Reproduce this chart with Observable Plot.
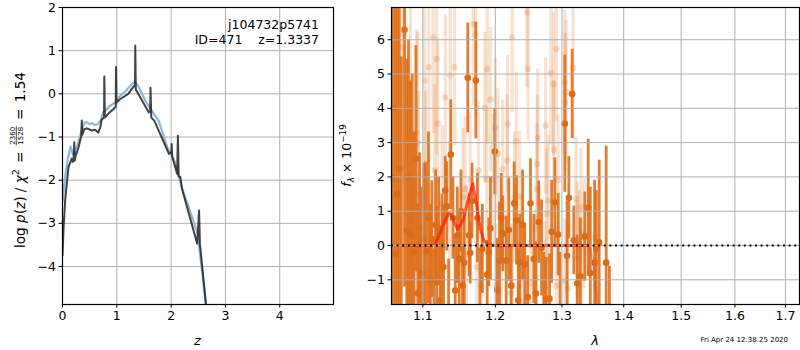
<!DOCTYPE html>
<html><head><meta charset="utf-8">
<script src="https://cdn.jsdelivr.net/npm/d3@7"></script>
<script src="https://cdn.jsdelivr.net/npm/@observablehq/plot@0.6"></script>
<style>
body{margin:0;background:#fff;}
#wrap{position:relative;width:800px;height:350px;font-family:"DejaVu Sans";}
#wrap svg{position:absolute;top:0;}
#wrap text{white-space:pre;}
</style></head><body><div id="wrap"></div>
<script>
// ---------- left panel: log p(z) ----------
const zDark = [0.00,0.02,0.05,0.11,0.17,0.19,0.205,0.215,0.225,0.24,0.30,0.345,0.355,0.365,0.40,0.45,0.54,0.60,0.66,0.70,0.72,0.765,0.77,0.78,0.85,0.94,0.98,0.985,0.995,1.065,1.21,1.29,1.335,1.34,1.35,1.59,1.615,1.62,1.635,1.69,1.96,2.005,2.01,2.02,2.11,2.125,2.14,2.17,2.20,2.48,2.515,2.53,2.64,2.68];
const lnpDark = [-3.75,-3.1,-2.45,-1.7,-1.5,-1.58,-1.5,-1.12,-1.55,-1.45,-1.22,-0.98,-0.62,-0.95,-0.82,-0.8,-0.85,-0.83,-0.9,-0.75,-0.6,-0.55,0.4,-0.55,-0.45,-0.35,-0.3,0.62,-0.2,-0.12,0.0,0.14,0.2,1.12,0.1,-0.43,-0.4,0.14,-0.55,-0.62,-1.39,-1.35,-1.16,-1.45,-1.85,-0.97,-1.9,-1.93,-2.2,-3.47,-2.7,-3.47,-4.86,-5.3];
const zLight = [0.00,0.05,0.10,0.15,0.19,0.22,0.30,0.36,0.41,0.45,0.50,0.54,0.60,0.64,0.71,0.75,0.79,0.85,0.97,1.04,1.10,1.16,1.25,1.33,1.40,1.52,1.64,1.70,1.77,1.93,2.06,2.18,2.49,2.62,2.66];
const lnpLight = [-2.5,-1.9,-1.5,-1.22,-1.4,-1.35,-1.1,-0.8,-0.66,-0.66,-0.7,-0.68,-0.72,-0.71,-0.6,-0.42,-0.39,-0.3,-0.2,-0.08,0.0,0.06,0.19,0.28,0.17,-0.15,-0.38,-0.5,-0.62,-1.24,-1.55,-2.1,-3.24,-4.65,-5.1];
const zTicks = [0,1,2,3,4];
const lnpTicks = [-4,-3,-2,-1,0,1,2];
const objName = "j104732p5741";
const objInfo = "ID=471    z=1.3337";

// ---------- right panel: spectrum ----------
const lamDark = [1.0598,1.0622,1.0649,1.0672,1.0693,1.0720,1.0761,1.0791,1.0812,1.0835,1.0861,1.0885,1.0908,1.0934,1.0958,1.0985,1.1012,1.1040,1.1075,1.1100,1.1119,1.1150,1.1170,1.1186,1.1210,1.1232,1.1255,1.1277,1.1300,1.1321,1.1345,1.1376,1.1405,1.1436,1.1465,1.1491,1.1515,1.1537,1.1560,1.1610,1.1630,1.1644,1.1670,1.1723,1.1745,1.1780,1.1815,1.1884,1.1907,1.1930,1.1993,1.2028,1.2061,1.2085,1.2109,1.2158,1.2196,1.2231,1.2275,1.2310,1.2335,1.2358,1.2400,1.2432,1.2475,1.2518,1.2568,1.2600,1.2644,1.2685,1.2720,1.2756,1.2807,1.2840,1.2889,1.2941,1.2970,1.3045,1.3080,1.3108,1.3160,1.3186,1.3240,1.3290,1.3361,1.3416,1.3450,1.3520,1.3546,1.3594,1.3709,1.3762];
const fDark = [2.0,4.0,-0.24,1.5,2.24,-2.5,6.29,0.44,2.0,0.3,1.0,-0.2,2.53,-1.39,0.5,-0.8,0.2,-0.17,0.81,-1.0,0.19,-2.3,0.6,-1.07,0.5,-1.6,0.0,-0.63,1.6,1.14,-2.2,2.65,0.8,-1.31,0.3,-0.39,1.0,-1.17,-0.5,4.89,0.3,-0.22,1.3,4.81,0.8,-1.8,-0.1,-0.85,-0.2,0.5,2.74,-1.3,-0.44,0.8,0.34,-0.44,0.46,-1.17,1.23,0.73,-1.6,-0.49,0.6,-0.55,-1.5,1.23,-0.39,-1.4,0.68,-0.07,-2.0,-1.55,-1.55,0.4,1.26,0.32,-1.8,3.55,-0.3,1.39,4.42,0.15,-1.1,-0.9,0.26,1.1,-0.8,-0.5,-0.1,0.09,-0.5,-3.0];
const errDark = [9,9,8,8,8,8,7.5,5,4,4.5, 4,3.5,3.3,2.6,2.2,2.5,2.2,2.6,2.5,2.2, 1.7,2.2,1.6,2.2,1.5,2.0,1.5,1.8,1.0,1.3, 1.8,1.6,1.2,1.6,1.4,1.4,1.2,1.2,1.4,1.6, 1.2,0.9,1.1,1.7,1.3,1.7,1.3,1.0,1.0,1.5, 1.25,1.5,1.7,1.3,1.1,1.3,1.5,1.2,1.2,1.3, 1.5,1.4,1.6,1.2,1.2,1.3,1.3,1.5,1.2,1.4, 1.8,1.2,1.3,1.5,1.3,1.2,1.6,2.0,1.6,1.2, 1.3,1.0,1.4,1.7,1.3,2.0,2.5,2.4,1.7,2.4, 3.4,2.4];
const lamLight = [1.0730,1.0761,1.0795,1.0839,1.0850,1.0861,1.0917,1.0934,1.0940,1.0947,1.1026,1.1036,1.1058,1.1080,1.1137,1.1156,1.1182,1.1199,1.1258,1.1302,1.1360,1.1369,1.1427,1.1541,1.1572,1.1590,1.1643,1.1688,1.1721,1.1735,1.1761,1.1805,1.1850,1.1875,1.1883,1.1930,1.1970,1.2000,1.2015,1.2037,1.2087,1.2107,1.2172,1.2178,1.2227,1.2245,1.2250,1.2281,1.2307,1.2355,1.2393,1.2466,1.2481,1.2518,1.2600,1.2614,1.2619,1.2628,1.2738,1.2747,1.2762,1.2787,1.2828,1.2868,1.2874,1.2913,1.2915,1.2939,1.3041,1.3045,1.3051,1.3066,1.3092,1.3174,1.3221,1.3238,1.3245,1.3274,1.3299,1.3305,1.3352,1.3521];
const fLight = [5.78,6.17,0.87,3.99,0.49,-1.0,3.3,3.01,1.49,-0.63,4.81,1.7,-0.78,5.2,6.07,2.19,5.44,3.55,1.2,4.32,0.92,4.96,5.2,1.41,1.65,-0.26,1.9,6.46,6.15,-0.63,2.19,-1.22,4.01,1.94,5.15,4.26,1.94,3.45,-1.17,2.67,-0.44,2.24,2.48,3.55,-1.39,6.07,-1.17,1.41,3.04,1.43,-0.34,6.8,5.15,-1.1,-0.92,1.65,2.38,3.14,-1.21,3.5,0.92,1.31,5.03,4.71,2.8,5.73,-1.17,1.9,4.76,-1.02,4.18,4.47,-1.26,5.18,1.36,0.15,-0.39,-0.1,1.12,-0.94,0.34,0.24];
const errLight = [4.0,4.0,3.5,3.5,3.2,3.0,3.0,3.2,3.0,2.8, 3.0,2.8,2.4,2.8,2.8,2.5,2.8,2.5,2.3,2.4, 2.1,2.4,2.3,2.0,2.1,2.0,2.0,2.4,2.4,1.9, 2.0,1.9,2.2,2.0,2.2,2.1,1.9,2.0,1.8,1.9, 1.9,2.0,1.9,2.0,1.8,2.2,1.8,1.9,2.0,1.9, 1.8,2.2,2.1,1.8,1.8,1.9,2.0,2.0,1.9,2.0, 1.9,1.9,2.1,2.1,2.0,2.1,1.8,1.9,2.1,1.8, 2.0,2.1,1.8,2.1,1.8,1.7,1.7,1.7,1.7,1.7, 1.6,1.6];
const lamModel = [1.073,1.090,1.1124,1.118,1.1236,1.129,1.1348,1.138,1.1407,1.144,1.1469,1.151,1.1551,1.160,1.1643,1.168,1.1735,1.178,1.1836,1.1896,1.200,1.250,1.300,1.340];
const fModel = [0,0,0,0.12,0.39,0.7,0.94,0.9,0.78,0.6,0.47,0.6,0.78,1.2,1.55,1.8,1.17,0.53,0.15,0.02,0,0,0,0];
const lamTail = [1.336,1.342,1.345,1.349,1.353,1.3565,1.358];
const fTail = [0,0,-0.1,-0.45,-1.02,-1.7,-2.0];
const lamTicks = [1.1,1.2,1.3,1.4,1.5,1.6,1.7];
const fTicks = [-1,0,1,2,3,4,5,6];
const stamp = "Fri Apr 24 12:38:25 2020";

const FONT = "DejaVu Sans";
const ORANGE = "#dd6c17";
const GRID = "#b0b0b0";
const minus = d => d < 0 ? "\u2212" + (-d) : String(d);

const darkPts = lamDark.map((l, i) => ({l, v: fDark[i], e: errDark[i]}));
const lightPts = lamLight.map((l, i) => ({l, v: fLight[i], e: errLight[i]}));
const model = lamModel.map((l, i) => ({l, v: fModel[i]}));
const tail = lamTail.map((l, i) => ({l, v: fTail[i]}));
const pzDark = zDark.map((z, i) => ({z, v: lnpDark[i]}));
const pzLight = zLight.map((z, i) => ({z, v: lnpLight[i]}));

const wrap = document.getElementById("wrap");
const baseStyle = {background: "transparent", fontFamily: FONT, fontSize: "12.5px", color: "black", overflow: "visible"};

const left = Plot.plot({
  width: 340, height: 350, marginLeft: 62, marginRight: 7, marginTop: 7, marginBottom: 46,
  style: baseStyle,
  x: {domain: [0, 4.99]},
  y: {domain: [-4.88, 2]},
  marks: [
    Plot.gridX(zTicks, {stroke: GRID, strokeOpacity: 1, strokeWidth: 1}),
    Plot.gridY(lnpTicks, {stroke: GRID, strokeOpacity: 1, strokeWidth: 1}),
    Plot.line(pzLight, {x: "z", y: "v", stroke: "#8ab9dc", strokeWidth: 2.2, clip: true}),
    Plot.line(pzDark, {x: "z", y: "v", stroke: "#222", strokeOpacity: 0.85, strokeWidth: 2, clip: true}),
    Plot.frame({stroke: "black", strokeWidth: 1.2}),
    Plot.axisX({ticks: zTicks, tickSize: 3.5, tickPadding: 3, tickFormat: minus, label: null, fontSize: 12.5}),
    Plot.axisY({ticks: lnpTicks, tickSize: 3.5, tickPadding: 3, tickFormat: minus, label: null, fontSize: 12.5}),
    Plot.text([objName], {frameAnchor: "top-right", textAnchor: "end", lineAnchor: "bottom", dx: -14.5, dy: 21.5, fontSize: 12.5}),
    Plot.text([objInfo], {frameAnchor: "top-right", textAnchor: "end", lineAnchor: "bottom", dx: -14.5, dy: 36, fontSize: 12.5})
  ]
});
left.style.left = "0px";
wrap.appendChild(left);

const right = Plot.plot({
  width: 460, height: 350, marginLeft: 51, marginRight: 1, marginTop: 7, marginBottom: 46,
  style: baseStyle,
  x: {type: "log", domain: [1.0594, 1.729]},
  y: {domain: [-1.72, 6.94]},
  marks: [
    Plot.ruleX(lightPts, {x: "l", y1: d => d.v - d.e, y2: d => d.v + d.e, stroke: ORANGE, strokeOpacity: 0.2, strokeWidth: 3.2, clip: true}),
    Plot.dot(lightPts, {x: "l", y: "v", r: 3.2, fill: ORANGE, fillOpacity: 0.22, stroke: "none", clip: true}),
    Plot.ruleX(darkPts, {x: "l", y1: d => d.v - d.e, y2: d => d.v + d.e, stroke: ORANGE, strokeOpacity: 0.88, strokeWidth: 2.8, clip: true}),
    Plot.dot(darkPts, {x: "l", y: "v", r: 3.3, fill: ORANGE, stroke: "none", clip: true}),
    Plot.line(model, {x: "l", y: "v", stroke: "#ff1a00", strokeOpacity: 0.7, strokeWidth: 3, clip: true}),
    Plot.line(tail, {x: "l", y: "v", stroke: "#ff3030", strokeOpacity: 0.3, strokeWidth: 2.5, clip: true}),
    Plot.gridX(lamTicks, {stroke: GRID, strokeOpacity: 1, strokeWidth: 1}),
    Plot.gridY(fTicks, {stroke: GRID, strokeOpacity: 1, strokeWidth: 1}),
    Plot.ruleY([0], {stroke: "black", strokeDasharray: "2,3.6", strokeWidth: 2}),
    Plot.frame({stroke: "black", strokeWidth: 1.2}),
    Plot.axisX({ticks: lamTicks, tickSize: 3.5, tickPadding: 3, tickFormat: d3.format(".1f"), label: null, fontSize: 12.5}),
    Plot.axisY({ticks: fTicks, tickSize: 3.5, tickPadding: 3, tickFormat: minus, label: null, fontSize: 12.5})
  ]
});
right.style.left = "340px";
wrap.appendChild(right);

// ---------- axis labels (text) ----------
const L = d3.select(left);
L.append("text").attr("x", 197.5).attr("y", 345).attr("text-anchor", "middle")
  .attr("font-size", 13).attr("font-style", "italic").attr("font-family", FONT).text("z");

// left y label: log p(z) / χ² = 2360/1528 = 1.54 (rotated)
const LF = 13.6;
const lg = L.append("g").attr("transform", "translate(24.5,248) rotate(-90)")
  .attr("font-family", FONT).attr("font-size", LF).attr("fill", "black").attr("text-anchor", "start");
const tA = lg.append("text").attr("x", 0).attr("y", 0).attr("text-anchor", "start");
tA.append("tspan").text("log ");
tA.append("tspan").attr("font-style", "italic").text("p");
tA.append("tspan").text("(");
tA.append("tspan").attr("font-style", "italic").text("z");
tA.append("tspan").text(") / ");
tA.append("tspan").attr("font-style", "italic").text("\u03c7");
tA.append("tspan").attr("font-size", 9.5).attr("dy", -5.5).text("2");
const wA = tA.node().getComputedTextLength();
const eq1 = lg.append("text").attr("text-anchor", "start").text("=");
const wEq = eq1.node().getComputedTextLength();
const num = lg.append("text").attr("font-size", 7).attr("text-anchor", "middle").text("2360");
const den = lg.append("text").attr("font-size", 7).attr("text-anchor", "middle").text("1528");
const wF = Math.max(num.node().getComputedTextLength(), den.node().getComputedTextLength()) + 1;
const eq2 = lg.append("text").attr("text-anchor", "start").text("=");
const val = lg.append("text").attr("text-anchor", "start").text("1.54");
const wV = val.node().getComputedTextLength();
const total = 176;
const gap = Math.max(2, (total - (wA + 2 * wEq + wF + wV)) / 4);
let cx = wA + gap;
eq1.attr("x", cx); cx += wEq + gap;
const fc = cx + wF / 2;
num.attr("x", fc).attr("y", -9.6);
den.attr("x", fc).attr("y", -1.6);
lg.append("line").attr("x1", cx).attr("x2", cx + wF).attr("y1", -8.2).attr("y2", -8.2)
  .attr("stroke", "black").attr("stroke-width", 0.7);
cx += wF + gap;
eq2.attr("x", cx); cx += wEq + gap;
val.attr("x", cx);

const R = d3.select(right);
R.append("text").attr("x", 255).attr("y", 345).attr("text-anchor", "middle")
  .attr("font-size", 13).attr("font-style", "italic").attr("font-family", FONT).text("\u03bb");
const rl = R.append("text").attr("transform", "translate(10.5,155.5) rotate(-90)")
  .attr("text-anchor", "middle").attr("font-family", FONT).attr("font-size", 12.5);
rl.append("tspan").attr("font-style", "italic").text("f");
rl.append("tspan").attr("font-style", "italic").attr("font-size", 8.8).attr("dy", 3).text("\u03bb");
rl.append("tspan").attr("dy", -3).text(" \u00d7 10");
rl.append("tspan").attr("font-size", 8.8).attr("dy", -5).text("\u221219");
R.append("text").attr("x", 448).attr("y", 342).attr("text-anchor", "end")
  .attr("font-size", 7).attr("font-family", FONT).text(stamp);
</script>
</body></html>
